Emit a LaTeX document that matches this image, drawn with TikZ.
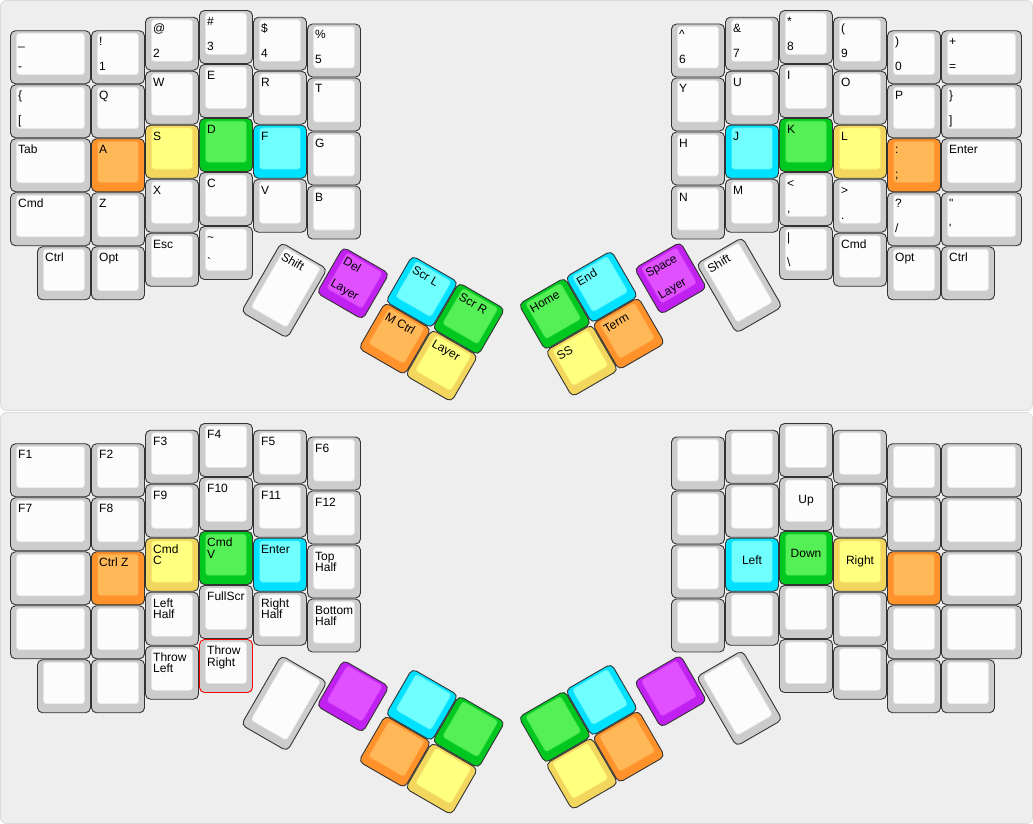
\documentclass[tikz,border=0pt]{standalone}
\usepackage{fontspec}
\usepackage{tikz}
\newfontfamily\keyfont{Liberation Sans}
\definecolor{panelbg}{HTML}{EEEEEE}
\definecolor{greyo}{HTML}{CCCCCC}
\definecolor{greyi}{HTML}{FCFCFC}
\definecolor{orangeo}{HTML}{FF922A}
\definecolor{orangei}{HTML}{FFB858}
\definecolor{yellowo}{HTML}{F2D65E}
\definecolor{yellowi}{HTML}{FFFF80}
\definecolor{greeno}{HTML}{00C820}
\definecolor{greeni}{HTML}{55F055}
\definecolor{cyano}{HTML}{00E0FF}
\definecolor{cyani}{HTML}{70FFFF}
\definecolor{purpleo}{HTML}{C020F0}
\definecolor{purplei}{HTML}{E050FF}
\tikzset{
  panel/.style={fill=panelbg, draw=black!14, line width=0.8pt, rounded corners=6pt},
  keyout/.style={draw=black!80, line width=0.9pt, rounded corners=5pt},
  keyin/.style={line width=0.6pt, rounded corners=3pt},
  legend/.style={font=\keyfont\fontsize{12}{14}\selectfont, inner sep=0pt, anchor=base west},
  grey out/.style={fill=greyo},
  grey in/.style={fill=greyi, draw=black!10},
  redgrey out/.style={fill=greyo, draw=red},
  redgrey in/.style={fill=greyi, draw=black!10},
  orange out/.style={fill=orangeo},
  orange in/.style={fill=orangei, draw=orangeo!70!orangei},
  yellow out/.style={fill=yellowo},
  yellow in/.style={fill=yellowi, draw=yellowo!60!yellowi},
  green out/.style={fill=greeno},
  green in/.style={fill=greeni, draw=greeno!60!greeni},
  cyan out/.style={fill=cyano},
  cyan in/.style={fill=cyani, draw=cyano!60!cyani},
  purple out/.style={fill=purpleo},
  purple in/.style={fill=purplei, draw=purpleo!60!purplei}
}
% name, x, y, width, height (units), colour, top legend, lower legend, lower baseline
\newcommand{\capbase}[9]{%
  \draw[keyout, #6 out] (#2+0.5,#3+0.5) rectangle ++(#4*54-1,#5*54-1);
  \draw[keyin, #6 in] (#2+6.5,#3+3) rectangle ++(#4*54-13,#5*54-12.5);
  \def\legtop{#7}\def\legbot{#8}%
  \ifx\legtop\empty\else\node[legend] (#1) at (#2+8,#3+15.5) {#7};\fi
  \ifx\legbot\empty\else\node[legend] (#1b) at (#2+8,#3+#9) {#8};\fi
}
\newcommand{\kcap}[8]{\capbase{#1}{#2}{#3}{#4}{#5}{#6}{#7}{#8}{40.5}}
\newcommand{\tcap}[8]{\capbase{#1}{#2}{#3}{#4}{#5}{#6}{#7}{#8}{27}}

\begin{document}
\begin{tikzpicture}[x=1pt, y=-1pt]
  \useasboundingbox (0,0) rectangle (1033,824);
  \draw[panel] (0.5,0.5) rectangle (1032.5,410.5);
  \draw[panel] (0.5,412.5) rectangle (1032.5,823.5);

  % Base layer, left half
  \kcap{kMinus}{10}{30.25}{1.5}{1}{grey}{\_}{-}
  \kcap{kBrack}{10}{84.25}{1.5}{1}{grey}{\{}{[}
  \kcap{kTab}{10}{138.25}{1.5}{1}{grey}{Tab}{}
  \kcap{kCmdL}{10}{192.25}{1.5}{1}{grey}{Cmd}{}
  \kcap{kCtrlL}{37}{246.25}{1}{1}{grey}{Ctrl}{}
  \kcap{kOne}{91}{30.25}{1}{1}{grey}{!}{1}
  \kcap{kQ}{91}{84.25}{1}{1}{grey}{Q}{}
  \kcap{kA}{91}{138.25}{1}{1}{orange}{A}{}
  \kcap{kZ}{91}{192.25}{1}{1}{grey}{Z}{}
  \kcap{kOptL}{91}{246.25}{1}{1}{grey}{Opt}{}
  \kcap{kTwo}{145}{16.75}{1}{1}{grey}{@}{2}
  \kcap{kW}{145}{70.75}{1}{1}{grey}{W}{}
  \kcap{kS}{145}{124.75}{1}{1}{yellow}{S}{}
  \kcap{kX}{145}{178.75}{1}{1}{grey}{X}{}
  \kcap{kEsc}{145}{232.75}{1}{1}{grey}{Esc}{}
  \kcap{kThree}{199}{10}{1}{1}{grey}{\#}{3}
  \kcap{kE}{199}{64}{1}{1}{grey}{E}{}
  \kcap{kD}{199}{118}{1}{1}{green}{D}{}
  \kcap{kC}{199}{172}{1}{1}{grey}{C}{}
  \kcap{kGrave}{199}{226}{1}{1}{grey}{\textasciitilde}{\textasciigrave}
  \kcap{kFour}{253}{16.75}{1}{1}{grey}{\$}{4}
  \kcap{kR}{253}{70.75}{1}{1}{grey}{R}{}
  \kcap{kF}{253}{124.75}{1}{1}{cyan}{F}{}
  \kcap{kV}{253}{178.75}{1}{1}{grey}{V}{}
  \kcap{kFive}{307}{23.5}{1}{1}{grey}{\%}{5}
  \kcap{kT}{307}{77.5}{1}{1}{grey}{T}{}
  \kcap{kG}{307}{131.5}{1}{1}{grey}{G}{}
  \kcap{kB}{307}{185.5}{1}{1}{grey}{B}{}

  % Base layer, right half
  \kcap{kSix}{671}{23.5}{1}{1}{grey}{\textasciicircum}{6}
  \kcap{kY}{671}{77.5}{1}{1}{grey}{Y}{}
  \kcap{kH}{671}{131.5}{1}{1}{grey}{H}{}
  \kcap{kN}{671}{185.5}{1}{1}{grey}{N}{}
  \kcap{kSeven}{725}{16.75}{1}{1}{grey}{\&}{7}
  \kcap{kU}{725}{70.75}{1}{1}{grey}{U}{}
  \kcap{kJ}{725}{124.75}{1}{1}{cyan}{J}{}
  \kcap{kM}{725}{178.75}{1}{1}{grey}{M}{}
  \kcap{kEight}{779}{10}{1}{1}{grey}{*}{8}
  \kcap{kI}{779}{64}{1}{1}{grey}{I}{}
  \kcap{kK}{779}{118}{1}{1}{green}{K}{}
  \kcap{kComma}{779}{172}{1}{1}{grey}{<}{,}
  \kcap{kBslash}{779}{226}{1}{1}{grey}{|}{\textbackslash}
  \kcap{kNine}{833}{16.75}{1}{1}{grey}{(}{9}
  \kcap{kO}{833}{70.75}{1}{1}{grey}{O}{}
  \kcap{kL}{833}{124.75}{1}{1}{yellow}{L}{}
  \kcap{kDot}{833}{178.75}{1}{1}{grey}{>}{.}
  \kcap{kCmdR}{833}{232.75}{1}{1}{grey}{Cmd}{}
  \kcap{kZero}{887}{30.25}{1}{1}{grey}{)}{0}
  \kcap{kP}{887}{84.25}{1}{1}{grey}{P}{}
  \kcap{kSemi}{887}{138.25}{1}{1}{orange}{:}{;}
  \kcap{kSlash}{887}{192.25}{1}{1}{grey}{?}{/}
  \kcap{kOptR}{887}{246.25}{1}{1}{grey}{Opt}{}
  \kcap{kEqual}{941}{30.25}{1.5}{1}{grey}{+}{=}
  \kcap{kRbrack}{941}{84.25}{1.5}{1}{grey}{\}}{]}
  \kcap{kEnter}{941}{138.25}{1.5}{1}{grey}{Enter}{}
  \kcap{kQuote}{941}{192.25}{1.5}{1}{grey}{\textquotedbl}{\textquotesingle}
  \kcap{kCtrlR}{941}{246.25}{1}{1}{grey}{Ctrl}{}

  % Base layer, thumbs
  \begin{scope}[shift={(412,255)}, rotate=-30, transform shape]
    \kcap{kScrL}{0}{0}{1}{1}{cyan}{Scr L}{}
    \kcap{kScrR}{54}{0}{1}{1}{green}{Scr R}{}
    \kcap{kMCtrl}{0}{54}{1}{1}{orange}{M Ctrl}{}
    \kcap{kLayerL}{54}{54}{1}{1}{yellow}{Layer}{}
    \kcap{kDel}{-64}{27}{1}{1}{purple}{Del}{Layer}
    \kcap{kShiftL}{-120}{54}{1}{1.5}{grey}{Shift}{}
  \end{scope}
  \begin{scope}[shift={(518,304)}, rotate=30, transform shape]
    \kcap{kHome}{0}{0}{1}{1}{green}{Home}{}
    \kcap{kEnd}{54}{0}{1}{1}{cyan}{End}{}
    \kcap{kSS}{0}{54}{1}{1}{yellow}{SS}{}
    \kcap{kTerm}{54}{54}{1}{1}{orange}{Term}{}
    \kcap{kSpace}{118}{27}{1}{1}{purple}{Space}{Layer}
    \kcap{kShiftR}{174}{54}{1}{1.5}{grey}{Shift}{}
  \end{scope}

  % Function layer, left half
  \kcap{fF1}{10}{443.25}{1.5}{1}{grey}{F1}{}
  \kcap{fF7}{10}{497.25}{1.5}{1}{grey}{F7}{}
  \kcap{fL02}{10}{551.25}{1.5}{1}{grey}{}{}
  \kcap{fL03}{10}{605.25}{1.5}{1}{grey}{}{}
  \kcap{fL04}{37}{659.25}{1}{1}{grey}{}{}
  \kcap{fF2}{91}{443.25}{1}{1}{grey}{F2}{}
  \kcap{fF8}{91}{497.25}{1}{1}{grey}{F8}{}
  \kcap{fUndo}{91}{551.25}{1}{1}{orange}{Ctrl Z}{}
  \kcap{fL13}{91}{605.25}{1}{1}{grey}{}{}
  \kcap{fL14}{91}{659.25}{1}{1}{grey}{}{}
  \kcap{fF3}{145}{429.75}{1}{1}{grey}{F3}{}
  \kcap{fF9}{145}{483.75}{1}{1}{grey}{F9}{}
  \tcap{fCopy}{145}{537.75}{1}{1}{yellow}{Cmd}{C}
  \tcap{fLeftHalf}{145}{591.75}{1}{1}{grey}{Left}{Half}
  \tcap{fThrowL}{145}{645.75}{1}{1}{grey}{Throw}{Left}
  \kcap{fF4}{199}{423}{1}{1}{grey}{F4}{}
  \kcap{fF10}{199}{477}{1}{1}{grey}{F10}{}
  \tcap{fPaste}{199}{531}{1}{1}{green}{Cmd}{V}
  \kcap{fFull}{199}{585}{1}{1}{grey}{FullScr}{}
  \tcap{fThrowR}{199}{639}{1}{1}{redgrey}{Throw}{Right}
  \kcap{fF5}{253}{429.75}{1}{1}{grey}{F5}{}
  \kcap{fF11}{253}{483.75}{1}{1}{grey}{F11}{}
  \kcap{fEnter}{253}{537.75}{1}{1}{cyan}{Enter}{}
  \tcap{fRightHalf}{253}{591.75}{1}{1}{grey}{Right}{Half}
  \kcap{fF6}{307}{436.5}{1}{1}{grey}{F6}{}
  \kcap{fF12}{307}{490.5}{1}{1}{grey}{F12}{}
  \tcap{fTopHalf}{307}{544.5}{1}{1}{grey}{Top}{Half}
  \tcap{fBotHalf}{307}{598.5}{1}{1}{grey}{Bottom}{Half}

  % Function layer, right half
  \kcap{fR50}{671}{436.5}{1}{1}{grey}{}{}
  \kcap{fR51}{671}{490.5}{1}{1}{grey}{}{}
  \kcap{fR52}{671}{544.5}{1}{1}{grey}{}{}
  \kcap{fR53}{671}{598.5}{1}{1}{grey}{}{}
  \kcap{fR40}{725}{429.75}{1}{1}{grey}{}{}
  \kcap{fR41}{725}{483.75}{1}{1}{grey}{}{}
  \kcap{fLeft}{725}{537.75}{1}{1}{cyan}{}{}
  \kcap{fR43}{725}{591.75}{1}{1}{grey}{}{}
  \kcap{fR30}{779}{423}{1}{1}{grey}{}{}
  \kcap{fUp}{779}{477}{1}{1}{grey}{}{}
  \kcap{fDown}{779}{531}{1}{1}{green}{}{}
  \kcap{fR33}{779}{585}{1}{1}{grey}{}{}
  \kcap{fR34}{779}{639}{1}{1}{grey}{}{}
  \kcap{fR20}{833}{429.75}{1}{1}{grey}{}{}
  \kcap{fR21}{833}{483.75}{1}{1}{grey}{}{}
  \kcap{fRight}{833}{537.75}{1}{1}{yellow}{}{}
  \kcap{fR23}{833}{591.75}{1}{1}{grey}{}{}
  \kcap{fR24}{833}{645.75}{1}{1}{grey}{}{}
  \kcap{fR10}{887}{443.25}{1}{1}{grey}{}{}
  \kcap{fR11}{887}{497.25}{1}{1}{grey}{}{}
  \kcap{fR12}{887}{551.25}{1}{1}{orange}{}{}
  \kcap{fR13}{887}{605.25}{1}{1}{grey}{}{}
  \kcap{fR14}{887}{659.25}{1}{1}{grey}{}{}
  \kcap{fR00}{941}{443.25}{1.5}{1}{grey}{}{}
  \kcap{fR01}{941}{497.25}{1.5}{1}{grey}{}{}
  \kcap{fR02}{941}{551.25}{1.5}{1}{grey}{}{}
  \kcap{fR03}{941}{605.25}{1.5}{1}{grey}{}{}
  \kcap{fR04}{941}{659.25}{1}{1}{grey}{}{}
  \node[legend, anchor=base] (nUp) at (806,503.5) {Up};
  \node[legend, anchor=base] (nLeft) at (752,564.25) {Left};
  \node[legend, anchor=base] (nDown) at (806,557.5) {Down};
  \node[legend, anchor=base] (nRight) at (860,564.25) {Right};

  % Function layer, thumbs
  \begin{scope}[shift={(412,668)}, rotate=-30, transform shape]
    \kcap{fScrL}{0}{0}{1}{1}{cyan}{}{}
    \kcap{fScrR}{54}{0}{1}{1}{green}{}{}
    \kcap{fMCtrl}{0}{54}{1}{1}{orange}{}{}
    \kcap{fLayerL}{54}{54}{1}{1}{yellow}{}{}
    \kcap{fDel}{-64}{27}{1}{1}{purple}{}{}
    \kcap{fShiftL}{-120}{54}{1}{1.5}{grey}{}{}
  \end{scope}
  \begin{scope}[shift={(518,717)}, rotate=30, transform shape]
    \kcap{fHome}{0}{0}{1}{1}{green}{}{}
    \kcap{fEnd}{54}{0}{1}{1}{cyan}{}{}
    \kcap{fSS}{0}{54}{1}{1}{yellow}{}{}
    \kcap{fTerm}{54}{54}{1}{1}{orange}{}{}
    \kcap{fSpace}{118}{27}{1}{1}{purple}{}{}
    \kcap{fShiftR}{174}{54}{1}{1.5}{grey}{}{}
  \end{scope}
\end{tikzpicture}
\end{document}
